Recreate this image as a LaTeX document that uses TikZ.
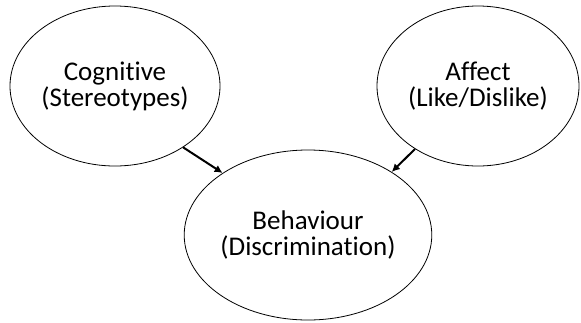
\documentclass[tikz,border=0pt]{standalone}
\usepackage{fontspec}
\setmainfont[Ligatures=NoCommon]{Carlito}
\usepackage{tikz}
\usetikzlibrary{positioning,arrows.meta,shapes}

\begin{document}
\begin{tikzpicture}[
      x=1pt, y=-1pt,
      attitude/.style={draw, ellipse, line width=0.8pt, align=center,
                       inner sep=0pt, font=\fontsize{27}{26}\selectfont},
      arr/.style={-{Latex[length=8pt,width=8pt]}, line width=2pt},
    ]
    \useasboundingbox (0,0) rectangle (581,322);
    \node[attitude, minimum width=210pt, minimum height=160pt] (cog) at (115,86) {Cognitive\\(Stereotypes)};
    \node[attitude, minimum width=202pt, minimum height=160pt] (aff) at (478,86) {Affect\\(Like/Dislike)};
    \node[attitude, minimum width=210pt, minimum height=170pt] (beh) at (308,235) {Behaviour\\(Discrimination)};
    \draw[arr] (cog.-42) -- (beh.144);
    \draw[arr] (aff.-135) -- (beh.37);
  \end{tikzpicture}
\end{document}
